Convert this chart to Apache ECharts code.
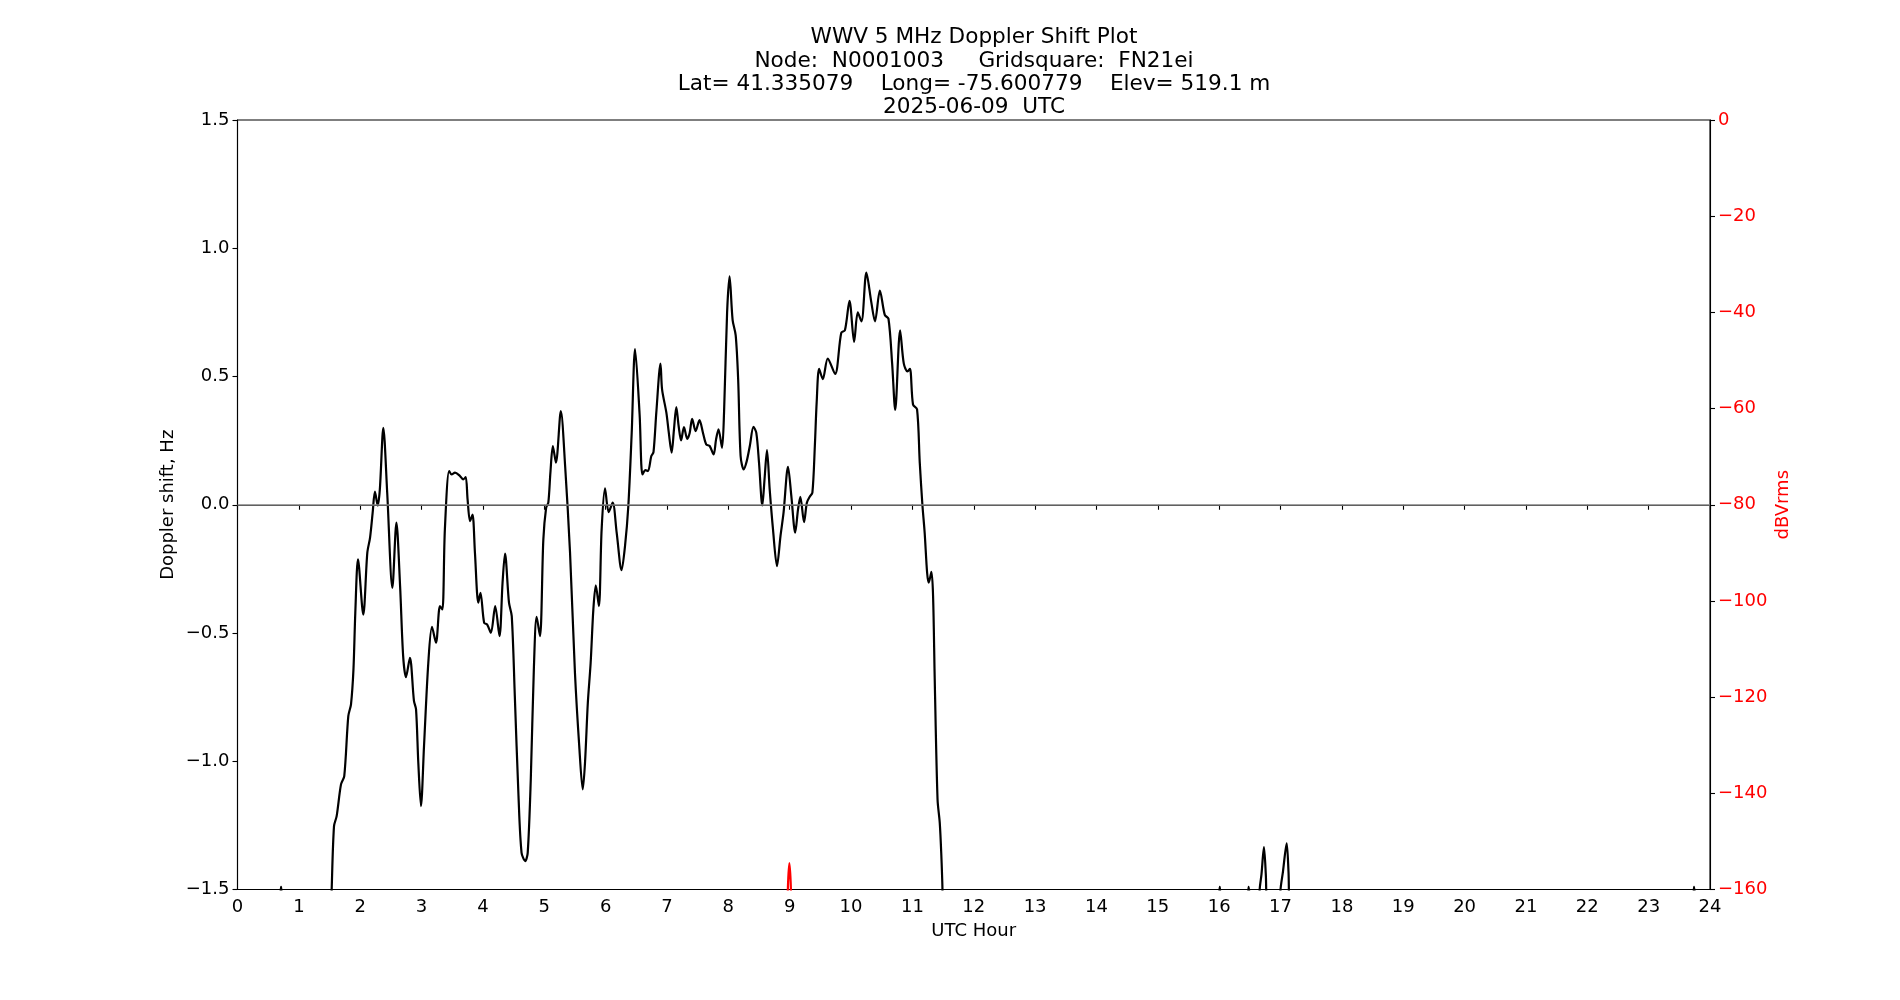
<!DOCTYPE html>
<html>
<head>
<meta charset="utf-8">
<script src="https://cdn.jsdelivr.net/npm/echarts@6/dist/echarts.min.js"></script>
<style>
html,body{margin:0;padding:0;background:#fff;}
#chart{width:1900px;height:1000px;}
</style>
</head>
<body>
<div id="chart"></div>
<script>
// ---- Data ----
const titleLines = [
  'WWV 5 MHz Doppler Shift Plot',
  'Node:  N0001003     Gridsquare:  FN21ei',
  'Lat= 41.335079    Long= -75.600779    Elev= 519.1 m',
  '2025-06-09  UTC'
];
const xTicks = [0, 24, 1];          // min, max, step (UTC hour)
const dopplerTicks = [-1.5, 1.5, 0.5];
const powerTicks = [-160, 0, 20];

// Doppler shift (Hz) vs UTC hour
const dopplerHours = [
  0.00, 0.68, 0.71, 0.74, 1.50, 1.535, 1.573, 1.616, 1.687, 1.74, 1.806, 1.85, 1.89, 1.92, 1.964,
  2.05, 2.116, 2.16, 2.203, 2.24, 2.285, 2.32, 2.377, 2.44, 2.524, 2.59, 2.65, 2.70, 2.746, 2.81,
  2.876, 2.91, 2.947, 2.99, 3.04, 3.11, 3.17, 3.235, 3.30, 3.34, 3.38, 3.45, 3.49, 3.545, 3.627,
  3.68, 3.72, 3.75, 3.79, 3.83, 3.87, 3.925, 3.96, 4.02, 4.07, 4.13, 4.20, 4.27, 4.32, 4.36,
  4.425, 4.47, 4.52, 4.58, 4.63, 4.69, 4.73, 4.78, 4.83, 4.876, 4.93, 4.985, 5.03, 5.066, 5.10,
  5.14, 5.19, 5.27, 5.34, 5.42, 5.50, 5.57, 5.627, 5.664, 5.71, 5.756, 5.80, 5.84, 5.89, 5.935,
  5.99, 6.05, 6.115, 6.18, 6.26, 6.316, 6.37, 6.425, 6.48, 6.554, 6.60, 6.65, 6.69, 6.745, 6.78,
  6.826, 6.894, 6.92, 6.99, 7.03, 7.076, 7.114, 7.152, 7.19, 7.23, 7.277, 7.33, 7.37, 7.41, 7.467,
  7.53, 7.587, 7.64, 7.696, 7.76, 7.80, 7.84, 7.897, 7.93, 7.98, 8.02, 8.07, 8.12, 8.16, 8.20,
  8.25, 8.30, 8.35, 8.41, 8.456, 8.50, 8.554, 8.59, 8.63, 8.674, 8.728, 8.793, 8.85, 8.90, 8.973,
  9.027, 9.09, 9.136, 9.174, 9.234, 9.28, 9.326, 9.37, 9.41, 9.44, 9.48, 9.54, 9.62, 9.74, 9.84,
  9.90, 9.975, 10.05, 10.11, 10.17, 10.25, 10.33, 10.39, 10.47, 10.55, 10.61, 10.67, 10.72, 10.80, 10.86,
  10.92, 10.96, 11.01, 11.076, 11.12, 11.163, 11.20, 11.24, 11.266, 11.31, 11.337, 11.364, 11.41, 11.446, 11.47,
  11.49, 11.52, 15.98, 16.01, 16.04, 16.45, 16.48, 16.51, 16.62, 16.66, 16.69, 16.73, 16.76, 16.79, 16.96,
  17.00, 17.04, 17.10, 17.13, 17.16, 23.71, 23.74, 23.77, 24.00
];
const dopplerValues = [
  -2.0, -1.56, -1.49, -1.56, -1.8, -1.5, -1.253, -1.214, -1.09, -1.058, -0.824, -0.778, -0.642, -0.421, -0.213,
  -0.428, -0.187, -0.129, -0.031, 0.051, -0.003, 0.06, 0.30, 0.047, -0.324, -0.07, -0.317, -0.59, -0.672, -0.597,
  -0.765, -0.798, -1.006, -1.175, -0.941, -0.616, -0.476, -0.538, -0.395, -0.408, -0.096, 0.131, 0.118, 0.125, 0.112,
  0.099, 0.108, 0.021, -0.064, -0.038, -0.187, -0.382, -0.343, -0.46, -0.467, -0.499, -0.395, -0.512, -0.304, -0.19,
  -0.382, -0.434, -0.746, -1.136, -1.357, -1.389, -1.357, -1.071, -0.642, -0.437, -0.512, -0.135, -0.012, 0.008, 0.125,
  0.229, 0.164, 0.365, 0.151, -0.187, -0.655, -0.941, -1.11, -1.006, -0.772, -0.616, -0.408, -0.314, -0.395, -0.096,
  0.064, -0.029, 0.008, -0.109, -0.255, -0.161, -0.005, 0.28, 0.607, 0.352, 0.118, 0.135, 0.131, 0.19, 0.205,
  0.359, 0.55, 0.45, 0.359, 0.28, 0.203, 0.294, 0.381, 0.307, 0.251, 0.303, 0.257, 0.28, 0.335, 0.287,
  0.33, 0.28, 0.235, 0.229, 0.196, 0.255, 0.294, 0.222, 0.359, 0.75, 0.89, 0.72, 0.66, 0.489, 0.19,
  0.138, 0.17, 0.229, 0.304, 0.28, 0.164, -0.003, 0.099, 0.213, 0.06, -0.096, -0.239, -0.122, -0.031, 0.148,
  0.034, -0.109, -0.018, 0.031, -0.068, 0.008, 0.031, 0.047, 0.229, 0.40, 0.53, 0.49, 0.57, 0.51, 0.67,
  0.68, 0.795, 0.635, 0.75, 0.715, 0.905, 0.79, 0.715, 0.835, 0.74, 0.725, 0.55, 0.37, 0.68, 0.55,
  0.52, 0.53, 0.391, 0.372, 0.164, 0.0, -0.109, -0.265, -0.304, -0.262, -0.356, -0.681, -1.149, -1.24, -1.357,
  -1.5, -2.0, -1.56, -1.49, -1.56, -1.56, -1.49, -1.56, -1.7, -1.5, -1.44, -1.335, -1.44, -1.6, -1.7,
  -1.5, -1.43, -1.32, -1.43, -1.6, -1.56, -1.49, -1.56, -2.0
];

// Received level (dBVrms) vs UTC hour
const powerHours = [0.00, 8.95, 8.97, 8.995, 9.02, 9.04, 24.00];
const powerValues = [-175, -175, -160, -154.5, -160, -175, -175];

// ---- Build chart ----
const pair = (xs, ys) => xs.map((x, i) => [x, ys[i]]);
const FONT = 'DejaVu Sans';
const minus = s => String(s).replace('-', '\u2212');

const chart = echarts.init(document.getElementById('chart'), null, {renderer: 'canvas'});
chart.setOption({
  backgroundColor: '#ffffff',
  animation: false,
  title: {
    text: titleLines.join('\n'),
    left: 969,
    top: 21,
    textAlign: 'center',
    textStyle: {fontFamily: FONT, fontSize: 21.6, fontWeight: 'normal', color: '#000', lineHeight: 23.3}
  },
  grid: {
    left: 237.5, right: 190, top: 120, bottom: 110.5,
    show: true, borderColor: '#000', borderWidth: 1.1, backgroundColor: 'transparent',
    outerBoundsMode: 'none'
  },
  xAxis: {
    type: 'value', min: xTicks[0], max: xTicks[1], interval: xTicks[2],
    name: 'UTC Hour', nameLocation: 'middle', nameGap: 33, nameMoveOverlap: false,
    nameTextStyle: {fontFamily: FONT, fontSize: 18, color: '#000'},
    axisLine: {show: true, lineStyle: {color: '#000', width: 1.1}},
    axisTick: {show: true, length: 5, lineStyle: {color: '#000', width: 1.1}},
    axisLabel: {fontFamily: FONT, fontSize: 18, color: '#000', margin: 9},
    splitLine: {show: false}
  },
  yAxis: [
    {
      type: 'value', min: dopplerTicks[0], max: dopplerTicks[1], interval: dopplerTicks[2], position: 'left',
      name: 'Doppler shift, Hz', nameLocation: 'middle', nameGap: 60, nameRotate: 90, nameMoveOverlap: false,
      nameTextStyle: {fontFamily: FONT, fontSize: 18, color: '#000'},
      axisLine: {show: true, lineStyle: {color: '#000', width: 1.1}},
      axisTick: {show: true, length: 5, lineStyle: {color: '#000', width: 1.1}},
      axisLabel: {fontFamily: FONT, fontSize: 18, color: '#000', margin: 8,
        formatter: v => minus(v.toFixed(1))},
      splitLine: {show: false}
    },
    {
      type: 'value', min: powerTicks[0], max: powerTicks[1], interval: powerTicks[2], position: 'right',
      name: 'dBVrms', nameLocation: 'middle', nameGap: 64.5, nameRotate: 90, nameMoveOverlap: false,
      nameTextStyle: {fontFamily: FONT, fontSize: 18, color: '#ff0000'},
      axisLine: {show: true, lineStyle: {color: '#000', width: 1.1}},
      axisTick: {show: true, length: 5, lineStyle: {color: '#000', width: 1.1}},
      axisLabel: {fontFamily: FONT, fontSize: 18, color: '#ff0000', margin: 8,
        formatter: v => minus(Math.round(v))},
      splitLine: {show: false}
    }
  ],
  series: [
    {
      name: 'Doppler', type: 'line', yAxisIndex: 0, data: pair(dopplerHours, dopplerValues),
      showSymbol: false, symbol: 'none', smooth: 0.3, clip: true,
      lineStyle: {color: '#000', width: 2.2}, z: 3,
      markLine: {
        silent: true, symbol: 'none', label: {show: false},
        lineStyle: {color: '#808080', width: 1.5, type: 'solid'},
        data: [{yAxis: 0}]
      }
    },
    {
      name: 'dBVrms', type: 'line', yAxisIndex: 1, data: pair(powerHours, powerValues),
      showSymbol: false, symbol: 'none', smooth: 0.3, clip: true,
      lineStyle: {color: '#ff0000', width: 2.2}, z: 2
    }
  ]
});
</script>
</body>
</html>
